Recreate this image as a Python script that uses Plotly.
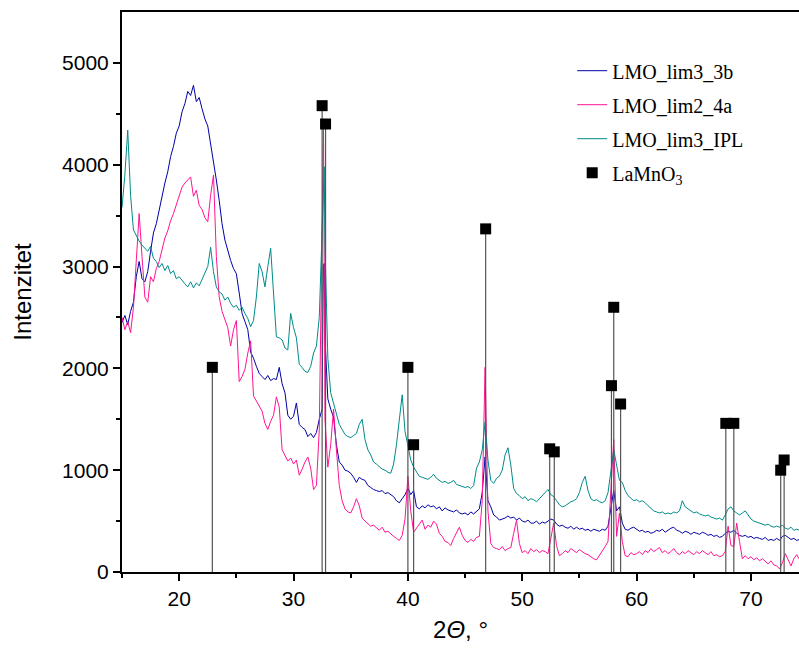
# XRD patterns of LMO samples with LaMnO3 reference lines

import numpy as np
import plotly.graph_objects as go

# 2theta scan grid (0.25 deg step, 15 .. 74.25)
two_theta = np.round(np.arange(15.0, 74.26, 0.25), 2)

# LMO_lim3_3b
blue_y = [
    2450, 2520, 2430, 2560, 2650, 2900, 3050, 2880, 2850, 2950, 3150, 3330,
    3420, 3560, 3680, 3820, 3930, 4080, 4180, 4310, 4380, 4520, 4600, 4720,
    4680, 4780, 4620, 4660, 4550, 4450, 4380, 4200, 4060, 3850, 3650, 3420,
    3260, 3150, 3060, 2980, 2930, 2740, 2540, 2460, 2380, 2160, 2100, 2020,
    1950, 1920, 1890, 1930, 1880, 1900, 1890, 2010, 1850, 1760, 1540, 1500,
    1530, 1660, 1450, 1420, 1400, 1330, 1360, 1320, 1370, 1500, 1600, 2300,
    1700, 1600, 1520, 1250, 1080, 1050, 1000, 990, 970, 930, 880, 930,
    910, 900, 850, 830, 810, 800, 790, 800, 770, 780, 760, 740,
    700, 680, 720, 760, 820, 760, 800, 640, 620, 650, 630, 660,
    640, 650, 620, 640, 600, 630, 610, 600, 590, 610, 580, 570,
    580, 560, 590, 570, 600, 620, 780, 1130, 700, 640, 560, 540,
    510, 520, 530, 550, 530, 540, 510, 530, 500, 490, 510, 480,
    480, 500, 470, 490, 480, 500, 520, 510, 470, 450, 460, 440,
    430, 450, 420, 440, 420, 430, 410, 420, 400, 420, 410, 400,
    420, 410, 450, 620, 800, 600, 640, 480, 420, 410, 430, 440,
    420, 400, 410, 390, 400, 380, 390, 410, 400, 420, 390, 410,
    430, 440, 410, 400, 380, 400, 390, 370, 390, 380, 370, 390,
    380, 360, 370, 350, 360, 340, 350, 380, 400, 390, 410, 380,
    360, 350, 360, 340, 350, 330, 340, 330, 320, 340, 310, 320,
    310, 330, 310, 350, 360, 340, 320, 330, 310, 320,
]
blue_peak_x = [32.6, 32.68]
blue_peak_y = [3000, 3030]

# LMO_lim2_4a
pink_y = [
    2500, 2380, 2460, 2350, 2600, 3100, 3520, 3100, 2700, 2650, 2900, 2850,
    2980, 3050, 3180, 3280, 3350, 3450, 3520, 3600, 3700, 3780, 3820, 3850,
    3880, 3690, 3750, 3600, 3560, 3480, 3440, 3700, 3900, 3100, 2700, 2560,
    2480, 2400, 2220, 2380, 2470, 1870, 1920, 1990, 2150, 2270, 1730, 1680,
    1640, 1580, 1460, 1400, 1480, 1540, 1720, 1620, 1200, 1150, 1090, 1120,
    1060, 1100, 950, 1010, 1080, 1130, 1020, 810, 850, 1400, 3200, 1500,
    1030, 1250, 1600, 1200, 850, 700, 620, 590, 580, 640, 720, 650,
    530, 500, 470, 450, 460, 430, 410, 440, 390, 400, 370, 350,
    330, 310, 360, 520, 940, 600, 390, 430, 480, 510, 420, 460,
    440, 500, 470, 380, 350, 300, 290, 260, 330, 380, 440, 360,
    310, 290, 320, 300, 340, 350, 700, 2010, 600, 280, 240, 230,
    220, 250, 210, 230, 240, 380, 510, 280, 190, 210, 180, 230,
    200, 220, 190, 210, 200, 180, 350, 480, 260, 160, 180, 210,
    190, 230, 210, 190, 220, 200, 180, 170, 150, 130, 120, 160,
    200, 250, 300, 800, 1300, 350, 580, 300, 160, 150, 190, 170,
    180, 200, 170, 210, 190, 230, 200, 220, 240, 190, 210, 180,
    200, 230, 190, 170, 200, 180, 210, 190, 170, 200, 180, 210,
    190, 170, 200, 160, 170, 150, 160, 200, 450, 260, 250, 480,
    300, 130, 160, 130, 150, 120, 140, 110, 130, 100, 80, 110,
    70, 60, 30, 90, 180, 120, 60, 130, 170, 120,
]
pink_peak_x = [32.62]
pink_peak_y = [4350]

# LMO_lim3_IPL
teal_y = [
    3580, 3900, 4340, 3700, 3360, 3300, 3250, 3210, 3180, 3150, 3200, 3080,
    3050, 2990, 3030, 2960, 3010, 2930, 2960, 2880, 2900, 2860, 2830, 2800,
    2850, 2790, 2840, 2810, 2870, 2930, 3000, 3190, 2950, 2800, 2750, 2730,
    2670, 2700, 2640, 2600, 2620, 2570, 2600, 2540, 2490, 2410, 2470, 2700,
    3030, 2950, 2800, 3000, 3180, 2740, 2310, 2300, 2280, 2200, 2180, 2540,
    2400, 2300, 2040, 2010, 1970, 1960, 2020, 2150, 2220, 2500, 3300, 3200,
    2100, 1760, 1650, 1560, 1450, 1400, 1350, 1330, 1320, 1340, 1360, 1450,
    1500, 1300, 1200, 1150, 1080, 1060, 1030, 1010, 1000, 980, 970, 1060,
    1250, 1500, 1740, 1380, 1230, 1100, 1030, 980, 940, 930, 920, 910,
    930, 960, 920, 900, 880, 890, 870, 880, 900, 860, 850, 840,
    830, 840, 820, 850, 1020, 1080, 1200, 1470, 1100, 900, 870, 920,
    940, 1000, 1150, 1220, 1050, 820, 770, 750, 720, 740, 700, 720,
    710, 690, 720, 750, 790, 810, 760, 740, 700, 660, 640, 650,
    670, 690, 700, 720, 780, 880, 940, 800, 720, 700, 710, 690,
    680, 700, 780, 1000, 1200, 1050, 900, 880, 800, 750, 720, 700,
    710, 690, 700, 680, 650, 620, 600, 590, 580, 590, 570, 580,
    570, 590, 580, 600, 700, 640, 620, 600, 580, 590, 570, 560,
    550, 560, 540, 530, 520, 530, 510, 560, 620, 640, 600, 580,
    560, 580, 600, 560, 520, 500, 490, 480, 470, 460, 470, 450,
    440, 450, 440, 460, 430, 420, 440, 410, 420, 410,
]
teal_peak_x = [32.6, 32.68]
teal_peak_y = [3700, 3980]

# LaMnO3 reference reflections
ref_x = [22.9, 32.5, 32.8, 40.0, 40.5, 46.8, 52.4, 52.8, 57.8, 58.0, 58.6, 67.8, 68.5, 72.6, 72.9]
ref_y = [2010, 4580, 4400, 2010, 1250, 3370, 1210, 1180, 1830, 2600, 1650, 1460, 1460, 1000, 1100]


def merge(grid_x, grid_y, px, py):
    xs = np.concatenate([grid_x, px])
    ys = np.concatenate([np.asarray(grid_y, float), py])
    order = np.argsort(xs, kind="stable")
    return xs[order], ys[order]


series = [
    ("LMO_lim3_3b", blue_y, blue_peak_x, blue_peak_y, "#0000a8"),
    ("LMO_lim2_4a", pink_y, pink_peak_x, pink_peak_y, "#ff1493"),
    ("LMO_lim3_IPL", teal_y, teal_peak_x, teal_peak_y, "#008b8b"),
]

fig = go.Figure()
for i, (name, ys, px, py, col) in enumerate(series):
    x, y = merge(two_theta, ys, px, py)
    fig.add_trace(go.Scatter(x=x, y=y, mode="lines", name=name, legendgroup=f"g{i}",
                             line=dict(color=col, width=1)))

# stems from zero up to each reference marker
stem_x, stem_y = [], []
for xv, yv in zip(ref_x, ref_y):
    stem_x += [xv, xv, None]
    stem_y += [0, yv, None]
fig.add_trace(go.Scatter(x=stem_x, y=stem_y, mode="lines", showlegend=False,
                         line=dict(color="#555555", width=1.2), hoverinfo="skip"))
fig.add_trace(go.Scatter(x=ref_x, y=ref_y, mode="markers", name="LaMnO<sub>3</sub>",
                         legendgroup="g3",
                         marker=dict(symbol="square", size=11, color="black")))

axis_font = dict(family="Liberation Sans, Arial", size=21, color="black")
fig.update_layout(
    width=799, height=650,
    margin=dict(l=122, r=0, t=12, b=78),
    plot_bgcolor="white", paper_bgcolor="white",
    showlegend=True,
    legend=dict(x=0.665, y=0.93, xanchor="left", yanchor="top",
                font=dict(family="Liberation Serif, Times New Roman", size=20, color="black"),
                bgcolor="rgba(0,0,0,0)", tracegroupgap=5),
    xaxis=dict(range=[15, 74.2], tickvals=[20, 30, 40, 50, 60, 70],
               ticks="outside", ticklen=7, tickwidth=2, tickcolor="black",
               minor=dict(tickvals=[15, 25, 35, 45, 55, 65], ticks="outside",
                          ticklen=4, tickwidth=2, tickcolor="black"),
               showline=True, linewidth=2, linecolor="black", mirror=True,
               showgrid=False, zeroline=False, tickfont=axis_font,
               title=dict(text="2<i>Θ</i>, °", standoff=12,
                          font=dict(family="Liberation Sans, Arial", size=24, color="black"))),
    yaxis=dict(range=[0, 5500], tickvals=[0, 1000, 2000, 3000, 4000, 5000],
               ticks="outside", ticklen=7, tickwidth=2, tickcolor="black",
               minor=dict(tickvals=[500, 1500, 2500, 3500, 4500], ticks="outside",
                          ticklen=4, tickwidth=2, tickcolor="black"),
               showline=True, linewidth=2, linecolor="black",
               showgrid=False, zeroline=False, tickfont=axis_font,
               title=dict(text="Intenzitet", standoff=24,
                          font=dict(family="Liberation Sans, Arial", size=24, color="black"))),
)

# drop the default page margin so the figure fills the window exactly
fig.write_html("out.html", config={"displayModeBar": False},
               post_script="document.body.style.margin='0';document.body.style.overflow='hidden';")
